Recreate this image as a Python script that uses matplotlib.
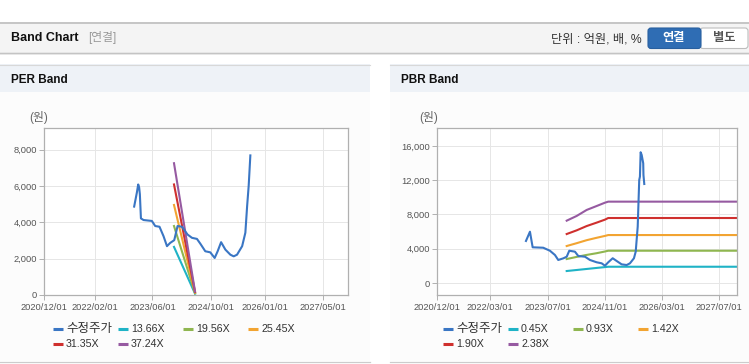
import numpy as np
import pandas as pd
import matplotlib
matplotlib.use('Agg')
import matplotlib.pyplot as plt
import matplotlib.dates as mdates
from matplotlib.patches import Rectangle, FancyBboxPatch
from matplotlib.lines import Line2D
from matplotlib.transforms import IdentityTransform

plt.rcParams['font.family'] = ['Liberation Sans', 'Noto Sans CJK KR']

W, H = 749, 364

# ---- PER band data ----
per_price_dates = ['2022-12-29', '2023-01-21', '2023-02-01', '2023-02-09', '2023-02-15',
                   '2023-02-24', '2023-03-18', '2023-05-27', '2023-06-24', '2023-07-30',
                   '2023-09-02', '2023-10-01', '2023-10-28', '2023-12-01', '2023-12-29',
                   '2024-02-04', '2024-03-22', '2024-04-28', '2024-06-09', '2024-07-07',
                   '2024-08-18', '2024-09-29', '2024-11-05', '2024-11-30', '2024-12-29',
                   '2025-02-03', '2025-03-17', '2025-04-14', '2025-05-12', '2025-06-24',
                   '2025-07-21', '2025-08-05', '2025-08-18', '2025-09-01']
per_price = [4870, 5650, 6090, 5930, 5550, 4220, 4130, 4080, 3800, 3760,
             3240, 2690, 2870, 3020, 3800, 3760, 3330, 3150, 3090, 2830,
             2410, 2350, 2040, 2410, 2910, 2500, 2220, 2130, 2220, 2690,
             3430, 4910, 6020, 7690]

per_band_dates = ['2023-11-29', '2024-05-24']
per_band_1366 = [2650, 70]
per_band_1956 = [3800, 100]
per_band_2545 = [4960, 130]
per_band_3135 = [6090, 160]
per_band_3724 = [7260, 190]
per_labels = ['수정주가', '13.66X', '19.56X', '25.45X', '31.35X', '37.24X']
per_xticks = ['2020-12-01', '2022-02-01', '2023-06-01', '2024-10-01', '2026-01-01', '2027-05-01']
per_yticks = [0, 2000, 4000, 6000, 8000]

# ---- PBR band data ----
pbr_price_dates = ['2022-12-29', '2023-02-01', '2023-02-24', '2023-05-25', '2023-07-21',
                   '2023-09-02', '2023-09-30', '2023-11-12', '2023-12-11', '2024-01-02',
                   '2024-02-19', '2024-03-19', '2024-05-15', '2024-06-26', '2024-08-22',
                   '2024-10-04', '2024-11-01', '2024-11-29', '2025-01-06', '2025-02-09',
                   '2025-03-23', '2025-05-05', '2025-06-02', '2025-07-06', '2025-07-21',
                   '2025-08-07', '2025-08-20', '2025-08-26', '2025-09-01', '2025-09-10',
                   '2025-09-23', '2025-09-25', '2025-10-02']
pbr_price = [4910, 5990, 4170, 4120, 3770, 3270, 2690, 2880, 3070, 3770,
             3660, 3150, 3070, 2690, 2420, 2300, 2020, 2420, 2890, 2570,
             2180, 2100, 2300, 2890, 3660, 6580, 12030, 12420, 15270, 14950,
             13980, 12610, 11560]

pbr_band_dates = ['2023-12-11', '2024-03-05', '2024-05-29', '2024-08-22',
                  '2024-11-01', '2024-11-29', '2028-06-01']
pbr_band_045 = [1400, 1520, 1640, 1760, 1860, 1900, 1900]
pbr_band_093 = [2800, 3050, 3280, 3480, 3680, 3770, 3770]
pbr_band_142 = [4320, 4650, 5000, 5280, 5500, 5600, 5600]
pbr_band_190 = [5720, 6150, 6650, 7050, 7400, 7590, 7590]
pbr_band_238 = [7280, 7830, 8530, 8990, 9380, 9500, 9500]
pbr_labels = ['수정주가', '0.45X', '0.93X', '1.42X', '1.90X', '2.38X']
pbr_xticks = ['2020-12-01', '2022-03-01', '2023-07-01', '2024-11-01', '2026-03-01', '2027-07-01']
pbr_yticks = [0, 4000, 8000, 12000, 16000]

colors = ['#3a76c4', '#1fb3c6', '#8fb650', '#f2a431', '#cf302e', '#965aa1']

fig = plt.figure(figsize=(W / 100, H / 100), dpi=100)
fig.patch.set_facecolor('white')


def fx(x):
    return x / W


def fy(y):
    return 1 - y / H


def box(x0, y0, x1, y1, fc):
    fig.add_artist(Rectangle((fx(x0), fy(y1)), (x1 - x0) / W, (y1 - y0) / H,
                             transform=fig.transFigure, facecolor=fc,
                             edgecolor='none', zorder=-3))


def hline(x0, x1, y, color, lw=0.8):
    fig.add_artist(Line2D([fx(x0), fx(x1)], [fy(y), fy(y)], transform=fig.transFigure,
                          color=color, lw=lw, zorder=-2))


# header bar
box(0, 22, W, 52, '#f4f4f4')
box(0, 52, W, 55, '#ececec')
hline(0, W, 22.5, '#b8b8b8', 1.1)
hline(0, W, 52.5, '#c4c4c4', 0.9)
fig.text(fx(11), fy(38), 'Band Chart', fontsize=9, fontweight='bold', color='#111111', va='center')
fig.text(fx(88), fy(38), '[연결]', fontsize=8.5, color='#999999', va='center')
fig.text(fx(642), fy(39), '단위 : 억원, 배, %', fontsize=8.8, color='#333333', va='center', ha='right')

fig.add_artist(FancyBboxPatch((700, H - 48.5), 48, 20.5, boxstyle='round,pad=0,rounding_size=3',
                              transform=IdentityTransform(), facecolor='white',
                              edgecolor='#bdbdbd', lw=0.8, zorder=-1))
fig.add_artist(FancyBboxPatch((648, H - 48.5), 53, 20.5, boxstyle='round,pad=0,rounding_size=3',
                              transform=IdentityTransform(), facecolor='#2f6db4',
                              edgecolor='#285f9f', lw=0.8, zorder=-1))
fig.text(fx(674), fy(38.5), '연결', fontsize=8.8, fontweight='bold', color='white', ha='center', va='center')
fig.text(fx(724), fy(38.5), '별도', fontsize=8.8, fontweight='bold', color='#555555', ha='center', va='center')

# panels
for px0, px1, title in [(0, 370, 'PER Band'), (390, W, 'PBR Band')]:
    box(px0, 64, px1, 92, '#eef2f7')
    box(px0, 92, px1, 361, '#fcfcfc')
    hline(px0, px1, 64.5, '#d8d8d8', 0.8)
    hline(px0, px1, 361.5, '#cccccc', 0.9)
    fig.text(fx(px0 + 11), fy(80), title, fontsize=8.5, fontweight='bold', color='#111111', va='center')
    fig.text(fx(px0 + 29), fy(118), '(원)', fontsize=8.5, color='#666666', va='center')


def style_axes(ax, xticks, yticks, ylim):
    ax.set_facecolor('white')
    ax.set_xlim(pd.Timestamp('2020-12-01'), pd.Timestamp('2027-12-01'))
    ax.set_ylim(*ylim)
    ax.set_xticks(pd.to_datetime(xticks))
    ax.xaxis.set_major_formatter(mdates.DateFormatter('%Y/%m/%d'))
    ax.set_yticks(yticks)
    ax.set_yticklabels([f'{v:,}' for v in yticks])
    ax.grid(True, color='#e6e6e6', lw=0.7)
    ax.set_axisbelow(True)
    for s in ax.spines.values():
        s.set_color('#b0b0b0')
        s.set_linewidth(0.9)
    ax.tick_params(axis='both', labelsize=6.7, labelcolor='#555555', color='#b0b0b0',
                   length=3.5, width=0.7)
    ax.tick_params(axis='x', pad=2.5)
    ax.tick_params(axis='y', pad=1.5)


def legend(x0, labels):
    for i, lab in enumerate(labels):
        row, col = divmod(i, 4)
        x = x0 + col * 65
        y = 329 + row * 15
        fig.add_artist(Line2D([fx(x), fx(x + 10)], [fy(y), fy(y)], transform=fig.transFigure,
                              color=colors[i], lw=2.2, solid_capstyle='butt'))
        size = 9 if i == 0 else 7.7
        fig.text(fx(x + 13), fy(y), lab, fontsize=size, color='#333333', va='center')


# PER chart
ax1 = fig.add_axes([fx(44), fy(295), 304 / W, 167 / H])
style_axes(ax1, per_xticks, per_yticks, (0, 9200))
bd = pd.to_datetime(per_band_dates)
for i, band in enumerate([per_band_1366, per_band_1956, per_band_2545, per_band_3135, per_band_3724]):
    ax1.plot(bd, band, color=colors[i + 1], lw=1.5)
ax1.plot(pd.to_datetime(per_price_dates), per_price, color=colors[0], lw=1.5)
legend(53, per_labels)

# PBR chart
ax2 = fig.add_axes([fx(437), fy(295), 300 / W, 167 / H])
style_axes(ax2, pbr_xticks, pbr_yticks, (-1400, 18100))
bd = pd.to_datetime(pbr_band_dates)
for i, band in enumerate([pbr_band_045, pbr_band_093, pbr_band_142, pbr_band_190, pbr_band_238]):
    ax2.plot(bd, band, color=colors[i + 1], lw=1.5)
ax2.plot(pd.to_datetime(pbr_price_dates), pbr_price, color=colors[0], lw=1.5)
legend(443, pbr_labels)

fig.savefig('out.png', dpi=100)
